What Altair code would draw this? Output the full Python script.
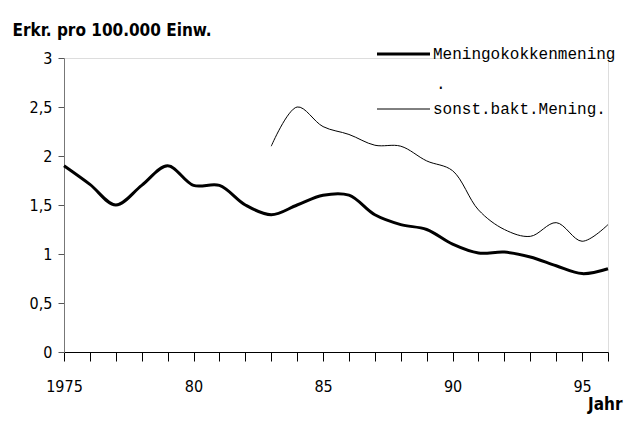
import altair as alt
import pandas as pd

years_mk = list(range(1975, 1997))
mk_values = [1.90, 1.71, 1.50, 1.70, 1.90, 1.70, 1.70, 1.50, 1.40, 1.50, 1.60, 1.60,
             1.40, 1.30, 1.25, 1.10, 1.01, 1.02, 0.97, 0.88, 0.80, 0.85]
years_sb = list(range(1983, 1997))
sb_values = [2.10, 2.50, 2.30, 2.22, 2.11, 2.10, 1.95, 1.85, 1.45, 1.25, 1.18, 1.32, 1.13, 1.30]
series_names = ["Meningokokkenmening", "sonst.bakt.Mening."]

df = pd.DataFrame(
    [{"Jahr": y, "Wert": v, "Serie": series_names[0]} for y, v in zip(years_mk, mk_values)]
    + [{"Jahr": y, "Wert": v, "Serie": series_names[1]} for y, v in zip(years_sb, sb_values)]
)

FONT = "DejaVu Sans Condensed"
W, H = 544, 294

x_axis = alt.Axis(
    values=list(range(1975, 1997)),
    labelExpr="datum.value == 1975 ? '1975' : (datum.value % 5 == 0 ? slice(toString(datum.value), 2) : '')",
    title="Jahr", titleFont=FONT, titleFontSize=17, titleFontWeight="bold", titleColor="black",
    titleAnchor="end", titleAlign="right", titleX=W + 14, titleY=52, titleBaseline="middle",
    labelFont=FONT, labelFontSize=16, labelColor="black", labelPadding=17, labelFlush=False,
    tickSize=9, tickColor="black", domainColor="black", grid=False, labelOverlap=False,
)
y_axis = alt.Axis(
    values=[0, 0.5, 1, 1.5, 2, 2.5, 3],
    labelExpr="replace(toString(datum.value), '.', ',')",
    title="Erkr. pro 100.000 Einw.", titleFont=FONT, titleFontSize=17, titleFontWeight="bold",
    titleColor="black", titleAngle=0, titleAlign="left", titleAnchor="start",
    titleX=-52, titleY=-28, titleBaseline="middle",
    labelFont=FONT, labelFontSize=16, labelColor="black", labelPadding=6,
    tickSize=6, tickColor="#555", domainColor="#777", grid=False,
)

sw_scale = alt.Scale(domain=series_names, range=[3, 1])

lines = alt.Chart(df).mark_line(interpolate="catmull-rom", color="black").encode(
    x=alt.X("Jahr:Q", scale=alt.Scale(domain=[1975, 1996], nice=False), axis=x_axis),
    y=alt.Y("Wert:Q", scale=alt.Scale(domain=[0, 3], nice=False), axis=y_axis),
    strokeWidth=alt.StrokeWidth("Serie:N", scale=sw_scale, legend=None),
    detail="Serie:N",
)

leg_df = pd.DataFrame({"Serie": series_names})
leg_y = [-4, 51]
leg_layers = []
for i, name in enumerate(series_names):
    sub = alt.Chart(leg_df).transform_filter(alt.datum.Serie == name)
    leg_layers.append(
        sub.mark_rule(color="black").encode(
            x=alt.value(313), x2=alt.value(366), y=alt.value(leg_y[i]),
            strokeWidth=alt.StrokeWidth("Serie:N", scale=sw_scale, legend=None),
        )
    )
    leg_layers.append(
        sub.mark_text(align="left", baseline="middle", font="Liberation Mono",
                      fontSize=16, color="black").encode(
            x=alt.value(369), y=alt.value(leg_y[i]), text="Serie:N"
        )
    )
dot = alt.Chart(pd.DataFrame({"t": ["."]})).mark_text(
    align="left", baseline="middle", font="Liberation Mono", fontSize=16, color="black"
).encode(x=alt.value(372), y=alt.value(26), text="t:N")

chart = alt.layer(lines, *leg_layers, dot).properties(
    width=W, height=H,
    autosize=alt.AutoSizeParams(type="none"),
    padding={"left": 56, "top": 50, "right": 16, "bottom": 62},
).configure_view(stroke=None, clip=False).configure(background="white")

chart.save("out.html", embed_options={"renderer": "svg", "actions": False})
